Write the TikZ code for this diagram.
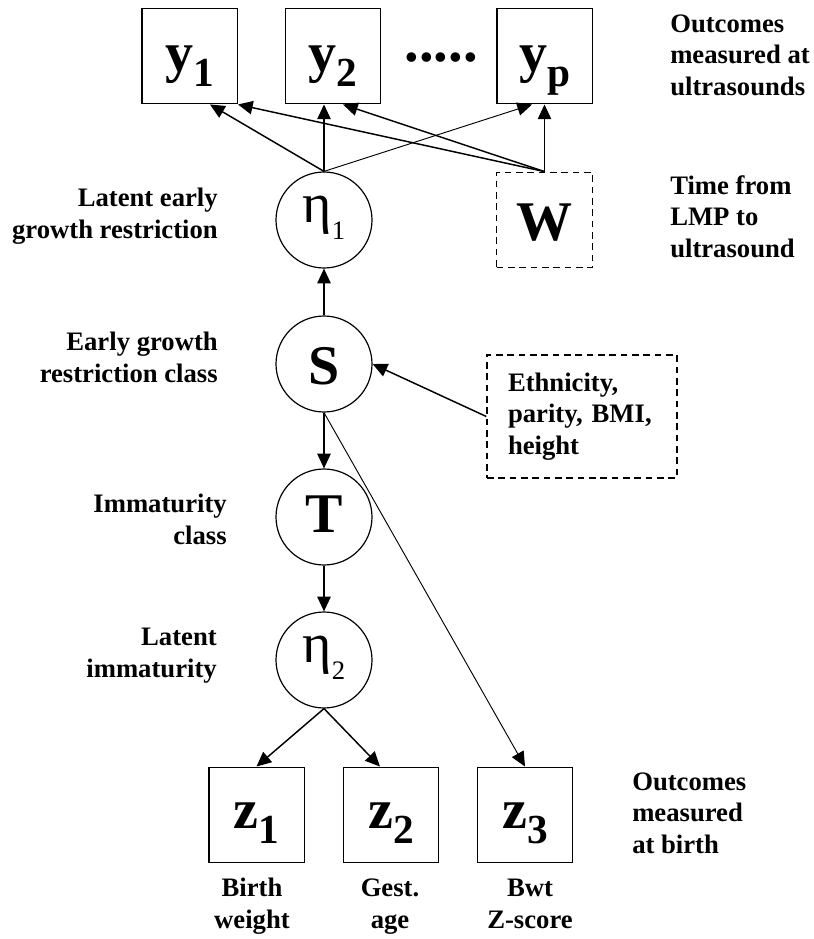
\documentclass[tikz,border=0pt]{standalone}
\usepackage{fontspec}
\setmainfont{Liberation Serif}
\usetikzlibrary{arrows.meta,calc}
\newcommand\mybig{\bfseries\fontsize{42}{44}\selectfont}
\newcommand\myeta{\mdseries\fontsize{42}{44}\selectfont}
\newcommand\mysubb{\bfseries\fontsize{31}{33}\selectfont}
\newcommand\mysubr{\mdseries\fontsize{20}{22}\selectfont}
\newcommand\mydots{\bfseries\fontsize{44}{44}\selectfont}
\newcommand\mylab{\bfseries\fontsize{20}{23.5}\selectfont}
\begin{document}
\begin{tikzpicture}[x=0.75pt,y=-0.75pt,
  obsbox/.style={draw, rectangle, line width=1.1pt, minimum size=71.6pt, inner sep=0pt, font=\mybig},
  latcirc/.style={draw, circle, line width=0.9pt, minimum size=72pt, inner sep=0pt, font=\mybig},
  dashbox/.style={draw, line width=1pt, dash pattern=on 5pt off 3.5pt},
  lbl/.style={font=\mylab, inner sep=0pt},
  arr/.style={-{Triangle[length=11pt,width=10pt]}, line width=1.1pt, solid},
  arrthin/.style={arr, line width=0.7pt}]
\useasboundingbox (0,0) rectangle (814,939);

% observed outcomes at ultrasound
\node[obsbox, text height=30pt, text depth=7.5pt] (y1) at (189.5,56) {y\raisebox{-11.25pt}{\mysubb 1}};
\node[obsbox, text height=30pt, text depth=7.5pt] (y2) at (333,56) {y\raisebox{-11.25pt}{\mysubb 2}};
\node[obsbox, text height=30pt, text depth=7.5pt] (yp) at (544.5,56) {y\raisebox{-11.25pt}{\mysubb p}};
\node[font=\mydots, anchor=base, inner sep=0pt] (dots) at (441,61) {.....};

% time covariate
\node[obsbox, dashbox, text height=33pt, text depth=3pt] (W) at (544.5,220) {W};

% latent chain
\node[latcirc, font=\myeta, text height=20pt, text depth=17pt] (eta1) at (324,220) {η\raisebox{-12.75pt}{\mysubr 1}};
\node[latcirc, text height=33pt, text depth=3pt] (S) at (324,364) {S};
\node[latcirc, text height=30pt, text depth=7.5pt] (T) at (324,517) {T};
\node[latcirc, font=\myeta, text height=20pt, text depth=17pt] (eta2) at (324,660) {η\raisebox{-13pt}{\mysubr 2}};

% covariates
\node[dashbox, font=\mylab, text width=111pt, align=left, inner xsep=15.75pt, inner ysep=0pt, minimum height=92.25pt] (cov) at (582,416.5) {Ethnicity,\\parity, BMI,\\height};

% birth outcomes
\node[obsbox, text height=27pt, text depth=7.5pt] (z1) at (256.5,815) {z\raisebox{-11.25pt}{\mysubb 1}};
\node[obsbox, text height=27pt, text depth=7.5pt] (z2) at (391,815) {z\raisebox{-11.25pt}{\mysubb 2}};
\node[obsbox, text height=27pt, text depth=7.5pt] (z3) at (525,815) {z\raisebox{-11.25pt}{\mysubb 3}};

% side labels (anchor = baseline of the last line)
\node[lbl, align=right, anchor=base east] (l1) at (218,238) {Latent early\\growth restriction};
\node[lbl, align=right, anchor=base east] (l2) at (218,382) {Early growth\\restriction class};
\node[lbl, align=right, anchor=base east] (l3) at (227,544) {Immaturity\\class};
\node[lbl, align=right, anchor=base east] (l4) at (217,677) {Latent\\immaturity};
\node[lbl, align=left, anchor=base west] (r1) at (670,95) {Outcomes\\measured at\\ultrasounds};
\node[lbl, align=left, anchor=base west] (r2) at (670,257) {Time from\\LMP to\\ultrasound};
\node[lbl, align=left, anchor=base west] (r3) at (632,853) {Outcomes\\measured\\at birth};
\node[lbl, align=center, anchor=base] (b1) at (252,928) {Birth\\weight};
\node[lbl, align=center, anchor=base] (b2) at (390,928) {Gest.\\age};
\node[lbl, align=center, anchor=base] (b3) at (530,928) {Bwt\\Z-score};

% connectors
\draw[arr] (eta1.north) -- ($(y1.south)+(20.5,0)$);
\draw[arr] (eta1.north) -- (eta1.north |- y2.south);
\draw[arrthin] (eta1.north) -- ($(yp.south)+(-12.5,0)$);
\draw[arr] (W.north) -- (y1.south east);
\draw[arr] (W.north) -- ($(y2.south)+(10,0)$);
\draw[arr] (W.north) -- (yp.south);
\draw[arr] (S.north) -- (eta1.south);
\draw[arr] (cov.west) -- (S.east);
\draw[arr] (S.south) -- (T.north);
\draw[arrthin] (S.south) -- (z3.north);
\draw[arr] (T.south) -- (eta2.north);
\draw[arr] (eta2.south) -- (z1.north);
\draw[arr] (eta2.south) -- ($(z2.north)+(-11,0)$);
\end{tikzpicture}
\end{document}
